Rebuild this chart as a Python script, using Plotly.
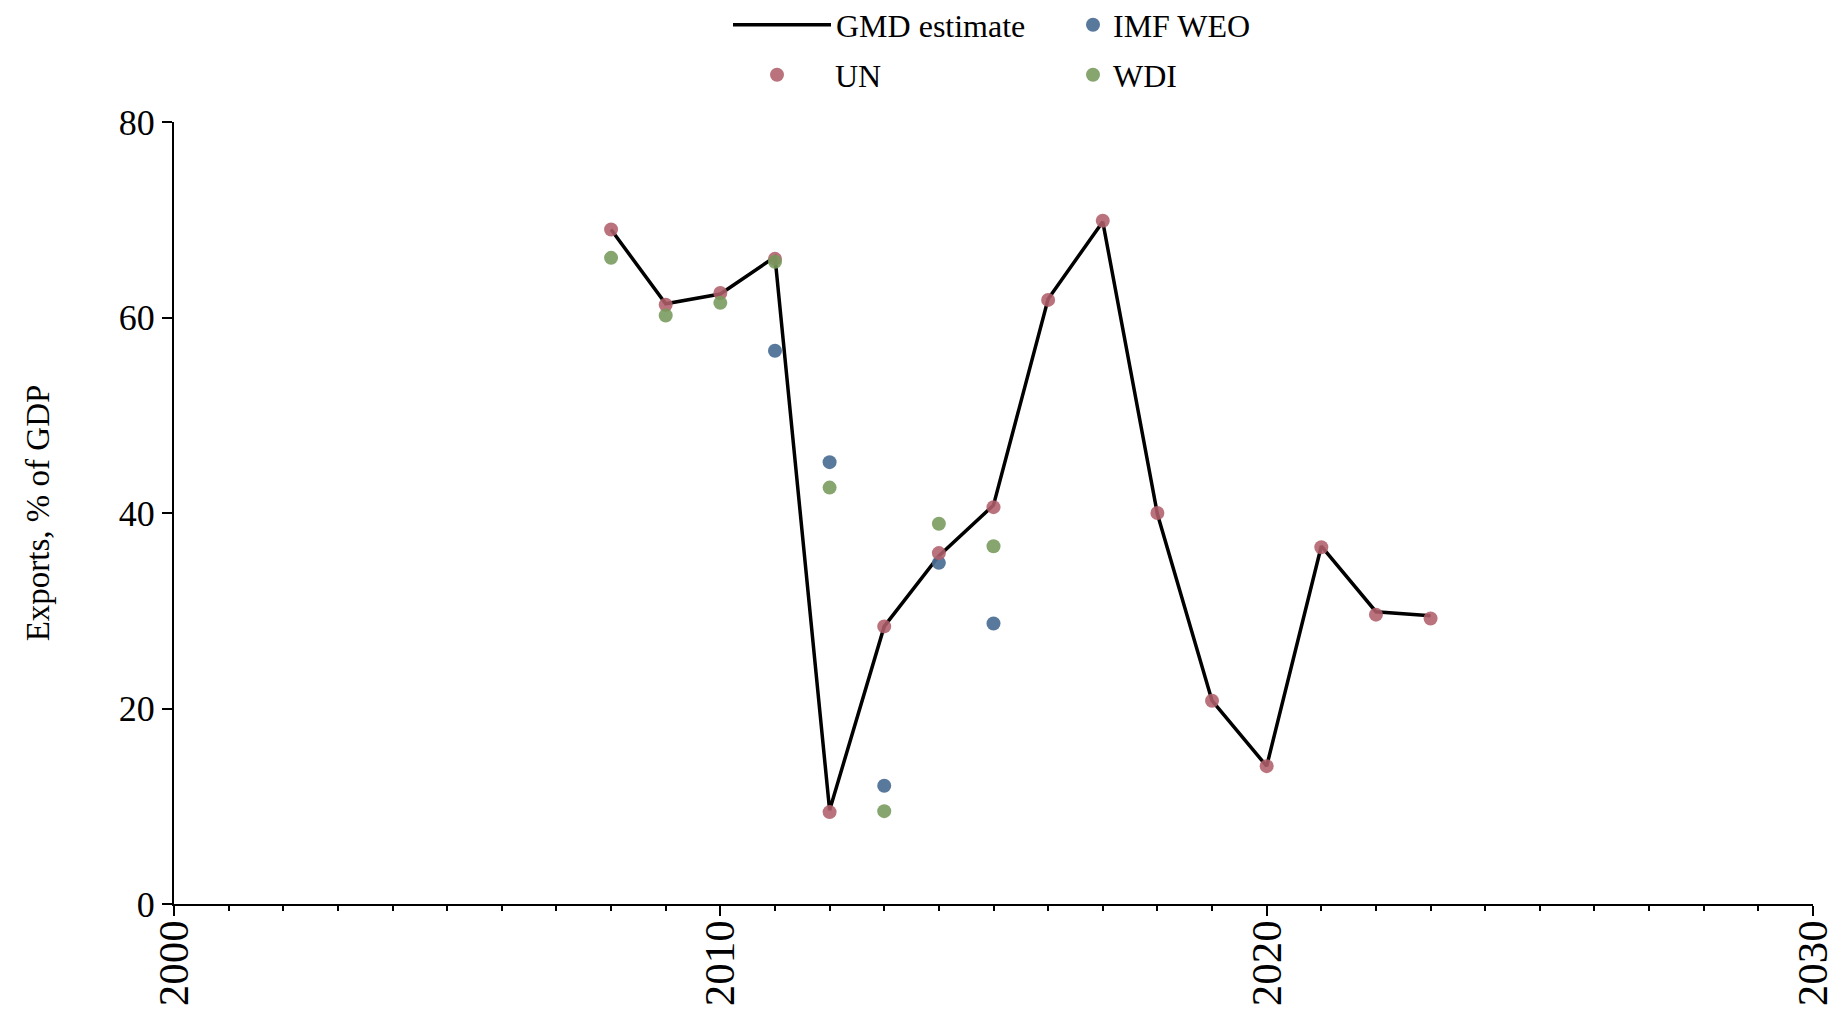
import plotly.graph_objects as go

# ---- data ----
gmd_years = [2008, 2009, 2010, 2011, 2012, 2013, 2014, 2015, 2016, 2017, 2018, 2019, 2020, 2021, 2022, 2023]
gmd_values = [69.0, 61.4, 62.4, 66.2, 9.6, 28.4, 35.6, 40.8, 61.9, 69.8, 39.9, 20.8, 14.1, 36.6, 29.9, 29.5]

un_years = [2008, 2009, 2010, 2011, 2012, 2013, 2014, 2015, 2016, 2017, 2018, 2019, 2020, 2021, 2022, 2023]
un_values = [69.0, 61.3, 62.5, 66.0, 9.4, 28.4, 35.9, 40.6, 61.8, 69.9, 40.0, 20.8, 14.1, 36.5, 29.6, 29.2]

imf_years = [2011, 2012, 2013, 2014, 2015]
imf_values = [56.6, 45.2, 12.1, 34.9, 28.7]

wdi_years = [2008, 2009, 2010, 2011, 2012, 2013, 2014, 2015]
wdi_values = [66.1, 60.2, 61.5, 65.7, 42.6, 9.5, 38.9, 36.6]

x_ticks = [2000, 2010, 2020, 2030]
y_ticks = [0, 20, 40, 60, 80]

FONT = "Liberation Serif"
UN_C = "#b0606a"
IMF_C = "#4b6e94"
WDI_C = "#76985a"

fig = go.Figure()
fig.add_trace(go.Scatter(x=gmd_years, y=gmd_values, mode="lines", name="GMD estimate",
                         line=dict(color="black", width=3.5), legend="legend"))
fig.add_trace(go.Scatter(x=imf_years, y=imf_values, mode="markers", name="IMF WEO",
                         marker=dict(color=IMF_C, size=14, opacity=0.92), legend="legend2"))
fig.add_trace(go.Scatter(x=un_years, y=un_values, mode="markers", name="UN",
                         marker=dict(color=UN_C, size=14, opacity=0.88), legend="legend3"))
fig.add_trace(go.Scatter(x=wdi_years, y=wdi_values, mode="markers", name="WDI",
                         marker=dict(color=WDI_C, size=14, opacity=0.88), legend="legend4"))

# page body has an 8px default margin, so the figure is offset by 8px
OFF = 8
W, H = 1840 - OFF, 1012 - OFF
ml, mr, mt = 174 - OFF, 27, 122 - OFF
mb = H - (904 - OFF)
pw, ph = W - ml - mr, H - mt - mb

def px(xp):
    return (xp - OFF - ml) / pw

def py(yp):
    return (H - mb - (yp - OFF)) / ph

leg_common = dict(font=dict(family=FONT, size=32, color="black"), bgcolor="rgba(0,0,0,0)",
                  orientation="h", xanchor="left", yanchor="middle")

fig.update_layout(
    width=W, height=H,
    margin=dict(l=ml, r=mr, t=mt, b=mb, autoexpand=False),
    paper_bgcolor="white", plot_bgcolor="white",
    font=dict(family=FONT, color="black"),
    showlegend=True,
    legend=dict(**leg_common, x=px(728), y=py(25), itemwidth=98),
    legend2=dict(**leg_common, x=px(1073), y=py(25), itemwidth=30),
    legend3=dict(**leg_common, x=px(719), y=py(75), itemwidth=106),
    legend4=dict(**leg_common, x=px(1073), y=py(75), itemwidth=30),
    xaxis=dict(range=[2000, 2030], tickvals=x_ticks, ticktext=[str(v) for v in x_ticks],
               tickangle=-90, tickfont=dict(family=FONT, size=43, color="black"),
               ticklabelstandoff=-13,
               showline=True, linecolor="black", linewidth=2, ticks="outside", ticklen=10,
               tickwidth=2, tickcolor="black", showgrid=False, zeroline=False, automargin=False,
               minor=dict(dtick=1, tick0=2000, ticks="outside", ticklen=5, tickwidth=1.5,
                          tickcolor="black", showgrid=False)),
    yaxis=dict(range=[0, 80], tickvals=y_ticks, tickfont=dict(family=FONT, size=36, color="black"),
               showline=True, linecolor="black", linewidth=2, ticks="outside", ticklen=10,
               tickwidth=2, tickcolor="black", showgrid=False, zeroline=False, automargin=False,
               title=dict(text="Exports, % of GDP", font=dict(family=FONT, size=33, color="black"),
                          standoff=59)),
)

fig.write_html("out.html")
